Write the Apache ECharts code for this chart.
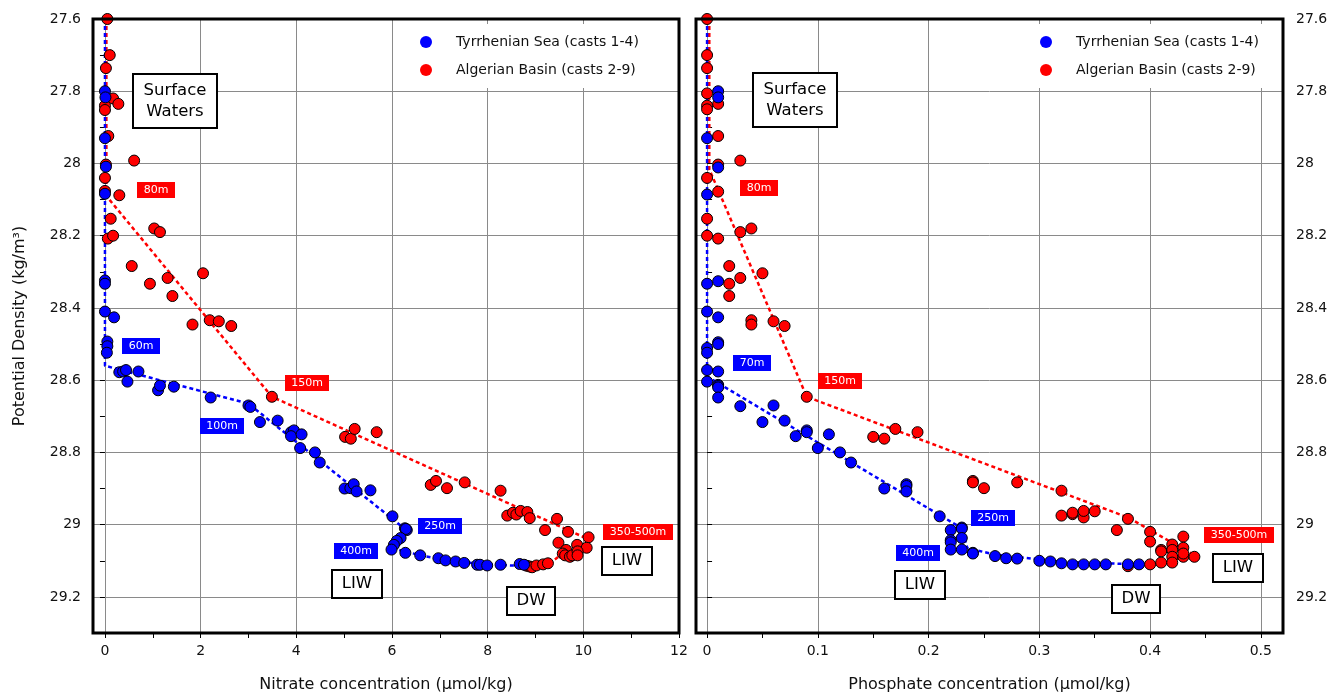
<!DOCTYPE html>
<html>
<head>
<meta charset="utf-8">
<script src="https://cdn.jsdelivr.net/npm/echarts@6/dist/echarts.min.js"></script>
<style>
  html, body { margin: 0; padding: 0; background: #fff; }
  #chart { width: 1330px; height: 692px; }
</style>
</head>
<body>
<div id="chart"></div>
<script>
// ---- Series names ----
const nameTyrrhenian = 'Tyrrhenian Sea (casts 1-4)';
const nameAlgerian = 'Algerian Basin (casts 2-9)';

// ---- Nitrate (µmol/kg) vs potential density (kg/m³) ----
const nitrateTyrrhenian = [
  [0.00,27.800],[0.01,27.817],[0.00,27.930],[0.02,28.009],[0.00,28.084],[0.00,28.324],[0.00,28.333],
  [0.00,28.410],[0.19,28.426],[0.05,28.493],[0.05,28.506],[0.04,28.524],[0.30,28.578],[0.38,28.576],
  [0.44,28.572],[0.70,28.576],[0.47,28.604],[1.11,28.628],[1.15,28.615],[1.44,28.618],[2.21,28.648],
  [3.00,28.670],[3.04,28.674],[3.24,28.716],[3.61,28.712],[3.89,28.744],[3.95,28.739],[3.89,28.755],
  [4.11,28.750],[4.08,28.788],[4.39,28.800],[4.49,28.828],[5.01,28.900],[5.13,28.899],[5.20,28.888],
  [5.26,28.908],[5.55,28.905],[6.01,28.977],[6.27,29.010],[6.31,29.015],[6.29,29.012],[6.18,29.037],
  [6.10,29.045],[6.04,29.056],[5.99,29.069],[6.28,29.078],[6.59,29.085],[6.97,29.093],[7.12,29.099],
  [7.33,29.102],[7.51,29.106],[7.78,29.111],[7.84,29.111],[7.99,29.113],[8.27,29.111],[8.67,29.109],
  [8.76,29.111]
];
const nitrateAlgerian = [
  [0.05,27.600],[0.10,27.700],[0.02,27.736],[0.17,27.820],[0.28,27.835],[0.00,27.840],[0.00,27.852],
  [0.07,27.924],[0.61,27.992],[0.02,28.003],[0.00,28.040],[0.00,28.076],[0.30,28.088],[0.12,28.153],
  [1.03,28.180],[1.15,28.190],[0.06,28.208],[0.17,28.200],[0.56,28.284],[2.05,28.304],[1.31,28.317],
  [0.94,28.333],[1.41,28.367],[1.83,28.446],[2.19,28.434],[2.38,28.437],[2.64,28.450],[3.49,28.646],
  [5.02,28.757],[5.14,28.762],[5.22,28.735],[5.68,28.744],[6.81,28.890],[6.92,28.879],[7.15,28.899],
  [7.52,28.883],[8.27,28.906],[8.41,28.975],[8.53,28.967],[8.60,28.972],[8.69,28.962],[8.83,28.965],
  [8.88,28.982],[9.45,28.984],[9.20,29.015],[9.68,29.020],[10.11,29.035],[9.48,29.050],[9.87,29.056],
  [10.07,29.064],[9.64,29.070],[9.57,29.080],[9.62,29.085],[9.72,29.089],[9.77,29.085],[9.88,29.074],
  [9.88,29.085],[8.82,29.114],[8.88,29.116],[8.93,29.118],[9.02,29.113],[9.16,29.110],[9.26,29.107]
];
const nitrateTyrrhenianTrend = [
  [0,27.6],[0,28.56],[3.0,28.665],[6.3,29.015],[6.0,29.065],[6.6,29.085],[7.2,29.1],[8.0,29.11],[8.8,29.115]
];
const nitrateAlgerianTrend = [
  [0.03,27.6],[0.03,28.09],[3.49,28.646],[10.1,29.04],[9.57,29.08],[9.3,29.107],[9.0,29.115]
];
// [text, nitrate, density, style]
const nitrateNotes = [
  ['Surface\nWaters', 1.47, 27.827, 'title'],
  ['80m', 1.07, 28.073, 'red'],
  ['60m', 0.75, 28.505, 'blue'],
  ['100m', 2.455, 28.726, 'blue'],
  ['150m', 4.23, 28.607, 'red'],
  ['250m', 7.01, 29.005, 'blue'],
  ['400m', 5.25, 29.074, 'blue'],
  ['350-500m', 11.14, 29.019, 'red'],
  ['LIW', 5.27, 29.163, 'box'],
  ['DW', 8.9, 29.212, 'box'],
  ['LIW', 10.92, 29.10, 'box']
];
const nitrateTicks = [0, 2, 4, 6, 8, 10, 12];
const nitrateMinorTicks = [1, 3, 5, 7, 9, 11];

// ---- Phosphate (µmol/kg) vs potential density (kg/m³) ----
const phosphateTyrrhenian = [
  [0.01,27.800],[0.01,27.817],[0.00,27.930],[0.01,28.011],[0.00,28.086],[0.01,28.326],[0.00,28.333],
  [0.00,28.410],[0.01,28.426],[0.01,28.495],[0.01,28.500],[0.00,28.511],[0.00,28.524],[0.00,28.572],
  [0.01,28.576],[0.00,28.604],[0.01,28.613],[0.01,28.616],[0.01,28.620],[0.01,28.648],[0.03,28.672],
  [0.06,28.670],[0.05,28.716],[0.07,28.712],[0.08,28.755],[0.09,28.739],[0.09,28.744],[0.11,28.750],
  [0.10,28.788],[0.12,28.800],[0.13,28.828],[0.16,28.900],[0.18,28.888],[0.18,28.893],[0.18,28.908],
  [0.21,28.977],[0.23,29.008],[0.23,29.011],[0.23,29.037],[0.22,29.015],[0.22,29.043],[0.22,29.049],
  [0.22,29.069],[0.23,29.069],[0.24,29.078],[0.24,29.080],[0.26,29.087],[0.27,29.093],[0.28,29.094],
  [0.30,29.100],[0.31,29.102],[0.32,29.107],[0.33,29.110],[0.34,29.110],[0.35,29.110],[0.36,29.110],
  [0.38,29.110],[0.39,29.110]
];
const phosphateAlgerian = [
  [0.00,27.600],[0.00,27.700],[0.00,27.736],[0.00,27.806],[0.01,27.835],[0.00,27.840],[0.00,27.850],
  [0.01,27.924],[0.03,27.992],[0.01,28.003],[0.00,28.040],[0.01,28.078],[0.00,28.153],[0.03,28.190],
  [0.04,28.180],[0.00,28.200],[0.01,28.208],[0.02,28.284],[0.05,28.304],[0.03,28.317],[0.02,28.333],
  [0.02,28.367],[0.04,28.434],[0.04,28.446],[0.06,28.437],[0.07,28.450],[0.09,28.646],[0.15,28.757],
  [0.16,28.762],[0.17,28.735],[0.19,28.744],[0.24,28.879],[0.24,28.883],[0.25,28.899],[0.28,28.883],
  [0.32,28.906],[0.32,28.975],[0.33,28.971],[0.33,28.967],[0.34,28.980],[0.34,28.962],[0.35,28.963],
  [0.38,28.984],[0.37,29.015],[0.40,29.020],[0.40,29.047],[0.43,29.033],[0.42,29.055],[0.43,29.064],
  [0.41,29.070],[0.41,29.074],[0.42,29.070],[0.42,29.089],[0.43,29.089],[0.43,29.080],[0.44,29.089],
  [0.41,29.105],[0.42,29.105],[0.40,29.110],[0.38,29.115]
];
const phosphateTyrrhenianTrend = [
  [0,27.6],[0,28.59],[0.23,29.01],[0.235,29.065],[0.26,29.083],[0.32,29.103],[0.39,29.11]
];
const phosphateAlgerianTrend = [
  [0.002,27.6],[0.002,28.016],[0.09,28.646],[0.38,28.98],[0.44,29.085],[0.40,29.11],[0.38,29.115]
];
const phosphateNotes = [
  ['Surface\nWaters', 0.079, 27.824, 'title'],
  ['80m', 0.0468, 28.068, 'red'],
  ['70m', 0.0403, 28.552, 'blue'],
  ['150m', 0.12, 28.602, 'red'],
  ['250m', 0.2586, 28.982, 'blue'],
  ['400m', 0.19, 29.079, 'blue'],
  ['350-500m', 0.48, 29.03, 'red'],
  ['LIW', 0.1918, 29.168, 'box'],
  ['DW', 0.3877, 29.205, 'box'],
  ['LIW', 0.4794, 29.12, 'box']
];
const phosphateTicks = [0, 0.1, 0.2, 0.3, 0.4, 0.5];
const phosphateMinorTicks = [0.05, 0.15, 0.25, 0.35, 0.45];

// ---- Styling ----
const FONT = 'DejaVu Sans';
const BLUE = '#0000ff';
const RED = '#ff0000';
const GRID_GRAY = '#8a8a8a';

const noteStyles = {
  red:   { backgroundColor: RED,  color: '#fff', fontSize: 11, lineHeight: 12, padding: [3, 6, 1, 6] },
  blue:  { backgroundColor: BLUE, color: '#fff', fontSize: 11, lineHeight: 12, padding: [3, 6, 1, 6] },
  box:   { backgroundColor: '#fff', color: '#000', fontSize: 16.5, lineHeight: 20, padding: [3, 8],
           borderColor: '#000', borderWidth: 2 },
  title: { backgroundColor: '#fff', color: '#000', fontSize: 16.5, lineHeight: 21, padding: [5, 9],
           borderColor: '#000', borderWidth: 2 }
};

// Text width rounded up to an even number of pixels, so that the label boxes land on whole pixels
const measureCtx = document.createElement('canvas').getContext('2d');
function evenTextWidth(text, size) {
  measureCtx.font = size + 'px "' + FONT + '"';
  const w = Math.max(...text.split('\n').map(line => measureCtx.measureText(line).width));
  return Math.ceil(w / 2) * 2;
}

function pointSeries(name, data, xi, yi, color) {
  return {
    type: 'scatter', name, data, xAxisIndex: xi, yAxisIndex: yi,
    symbolSize: 11, z: 2,
    itemStyle: { color, borderColor: '#000', borderWidth: 1, opacity: 1 }
  };
}
function trendSeries(name, data, xi, yi, color) {
  return {
    type: 'line', name, data, xAxisIndex: xi, yAxisIndex: yi,
    symbol: 'none', showSymbol: false, silent: true, z: 1,
    lineStyle: { color, width: 2.5, type: [4, 3], opacity: 1 }
  };
}
function noteData(notes, offsets) {
  return notes.map(([text, x, y, kind], i) => {
    const st = noteStyles[kind];
    const lines = text.split('\n').length;
    return {
      name: text, value: [x, y],
      label: Object.assign({
        show: true, position: 'inside', formatter: '{b}', fontFamily: FONT,
        align: 'center', verticalAlign: 'middle', opacity: 1,
        width: evenTextWidth(text, st.fontSize), height: st.lineHeight * lines,
        textBorderWidth: 0, textShadowBlur: 0, shadowBlur: 0,
        offset: offsets ? offsets[i] : [0, 0]
      }, st)
    };
  });
}
function noteSeries(id, notes, xi, yi) {
  return {
    id, type: 'scatter', xAxisIndex: xi, yAxisIndex: yi,
    symbolSize: 0, silent: true, z: 6,
    itemStyle: { color: 'transparent', opacity: 1 },
    data: noteData(notes)
  };
}

function mainXAxis(gridIndex, min, max, ticks, name) {
  return {
    type: 'value', gridIndex, min, max, position: 'bottom',
    axisLine: { show: false },
    axisTick: { show: true, length: 5, customValues: ticks, lineStyle: { color: '#000', width: 1 } },
    axisLabel: { customValues: ticks, margin: 11, color: '#111', fontSize: 14, fontFamily: FONT },
    splitLine: { show: true, lineStyle: { color: GRID_GRAY, width: 1 } },
    name, nameLocation: 'middle', nameGap: 44,
    nameTextStyle: { color: '#111', fontSize: 16, fontFamily: FONT }
  };
}
function minorXAxis(gridIndex, min, max, ticks) {
  return {
    type: 'value', gridIndex, min, max, position: 'bottom',
    axisLine: { show: false },
    axisTick: { show: true, length: 5, customValues: ticks, lineStyle: { color: '#000', width: 1 } },
    axisLabel: { show: false },
    splitLine: { show: false }
  };
}
function densityAxis(gridIndex, position, margin, name) {
  return {
    type: 'value', gridIndex, position, inverse: true,
    min: 27.6, max: 29.3, interval: 0.2,
    axisLine: { show: false },
    axisTick: { show: true, length: 5, lineStyle: { color: '#000', width: 1 } },
    minorTick: { show: true, splitNumber: 2, length: 5, lineStyle: { color: '#000', width: 1 } },
    axisLabel: {
      margin, color: '#111', fontSize: 14, fontFamily: FONT,
      formatter: v => (v > 29.25 ? '' : String(Math.round(v * 10) / 10))
    },
    splitLine: { show: true, lineStyle: { color: GRID_GRAY, width: 1 } },
    name, nameLocation: 'middle', nameGap: 65,
    nameTextStyle: { color: '#111', fontSize: 16, fontFamily: FONT }
  };
}
function legendAt(left, padRight) {
  return {
    left, top: 24, orient: 'vertical', selectedMode: false,
    data: [nameTyrrhenian, nameAlgerian],
    backgroundColor: '#fff', padding: [11, padRight, 11, 20],
    icon: 'circle', itemWidth: 12, itemHeight: 12, itemGap: 14,
    itemStyle: { borderWidth: 0, opacity: 1 },
    textStyle: { color: '#111', fontSize: 14, lineHeight: 14, fontFamily: FONT, padding: [0, 0, 0, 19] },
    z: 8
  };
}

const gridBase = { top: 19, height: 614, show: true, borderColor: '#000', borderWidth: 3,
                   backgroundColor: 'transparent', z: 5, containLabel: false, outerBoundsMode: 'none' };

const chart = echarts.init(document.getElementById('chart'), null, { renderer: 'canvas' });
chart.setOption({
  animation: false,
  backgroundColor: '#fff',
  textStyle: { fontFamily: FONT },
  grid: [
    Object.assign({ left: 93, width: 586 }, gridBase),
    Object.assign({ left: 696, width: 587 }, gridBase)
  ],
  legend: [legendAt(400, 36), legendAt(1020, 20)],
  xAxis: [
    mainXAxis(0, -0.25, 12, nitrateTicks, 'Nitrate concentration (µmol/kg)'),
    minorXAxis(0, -0.25, 12, nitrateMinorTicks),
    mainXAxis(1, -0.01, 0.52, phosphateTicks, 'Phosphate concentration (µmol/kg)'),
    minorXAxis(1, -0.01, 0.52, phosphateMinorTicks)
  ],
  yAxis: [
    densityAxis(0, 'left', 12, 'Potential Density (kg/m³)'),
    densityAxis(1, 'right', 13, '')
  ],
  series: [
    trendSeries('Algerian trend (nitrate)', nitrateAlgerianTrend, 0, 0, RED),
    trendSeries('Tyrrhenian trend (nitrate)', nitrateTyrrhenianTrend, 0, 0, BLUE),
    pointSeries(nameAlgerian, nitrateAlgerian, 0, 0, RED),
    pointSeries(nameTyrrhenian, nitrateTyrrhenian, 0, 0, BLUE),
    noteSeries('nitrate-notes', nitrateNotes, 0, 0),

    trendSeries('Algerian trend (phosphate)', phosphateAlgerianTrend, 2, 1, RED),
    trendSeries('Tyrrhenian trend (phosphate)', phosphateTyrrhenianTrend, 2, 1, BLUE),
    pointSeries(nameAlgerian, phosphateAlgerian, 2, 1, RED),
    pointSeries(nameTyrrhenian, phosphateTyrrhenian, 2, 1, BLUE),
    noteSeries('phosphate-notes', phosphateNotes, 2, 1)
  ]
});

// Snap each note box to whole pixels so its border renders crisply
function snapOffsets(notes, xi, yi) {
  return notes.map(([, x, y]) => {
    const p = chart.convertToPixel({ xAxisIndex: xi, yAxisIndex: yi }, [x, y]);
    return [Math.round(p[0]) - p[0], Math.round(p[1]) - p[1]];
  });
}
chart.setOption({
  series: [
    { id: 'nitrate-notes', data: noteData(nitrateNotes, snapOffsets(nitrateNotes, 0, 0)) },
    { id: 'phosphate-notes', data: noteData(phosphateNotes, snapOffsets(phosphateNotes, 2, 1)) }
  ]
});
</script>
</body>
</html>
